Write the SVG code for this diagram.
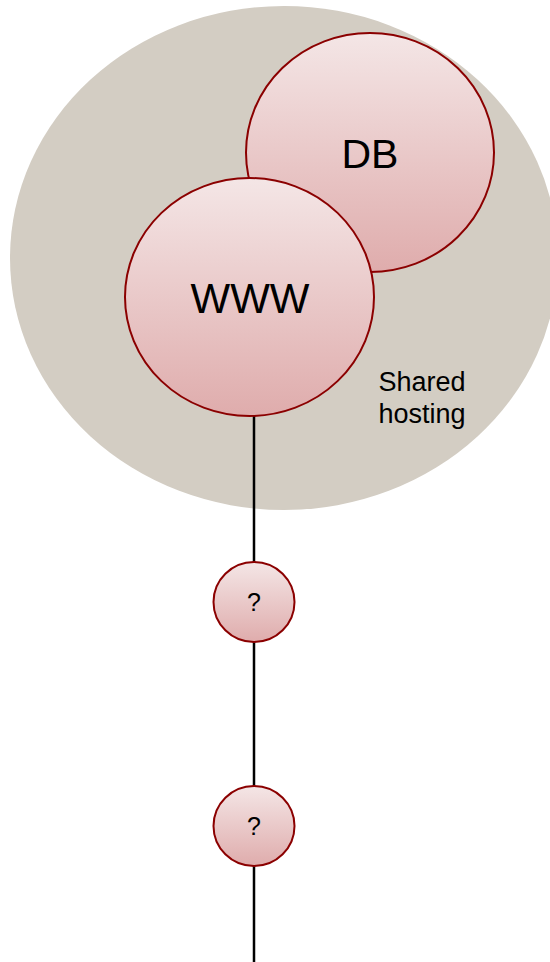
<svg xmlns="http://www.w3.org/2000/svg" width="550" height="962" viewBox="0 0 550 962">
  <style>
    .node { fill: url(#pink); stroke: #8b0000; stroke-width: 2; }
    .edge { stroke: #000; stroke-width: 2.5; fill: none; }
    .lbl { font-family: "Liberation Sans", Arial, sans-serif; fill: #000; text-anchor: middle; }
  </style>
  <defs>
    <linearGradient id="pink" x1="0" y1="0" x2="0" y2="1">
      <stop offset="0" stop-color="#f4e6e6"/>
      <stop offset="1" stop-color="#dfacac"/>
    </linearGradient>
  </defs>

  <!-- hosting zone -->
  <g id="shared-hosting">
    <ellipse cx="284" cy="258" rx="274" ry="252" fill="#d3cdc3"/>
    <text class="lbl" x="422" y="391" font-size="27">Shared</text>
    <text class="lbl" x="422" y="423" font-size="27">hosting</text>
  </g>

  <!-- connectors -->
  <g id="connectors">
    <line class="edge" x1="254" y1="416" x2="254" y2="962"/>
  </g>

  <g id="db">
    <ellipse class="node" cx="370" cy="152.5" rx="124" ry="119.5"/>
    <text class="lbl" x="370" y="168" font-size="41">DB</text>
  </g>

  <g id="www">
    <ellipse class="node" cx="249.5" cy="297" rx="124.5" ry="119"/>
    <text class="lbl" x="250" y="313" font-size="42">WWW</text>
  </g>

  <g id="hop1">
    <ellipse class="node" cx="254" cy="602" rx="40.5" ry="40"/>
    <text class="lbl" x="254" y="611" font-size="25">?</text>
  </g>

  <g id="hop2">
    <ellipse class="node" cx="254" cy="826" rx="40.5" ry="40"/>
    <text class="lbl" x="254" y="835" font-size="25">?</text>
  </g>
</svg>
